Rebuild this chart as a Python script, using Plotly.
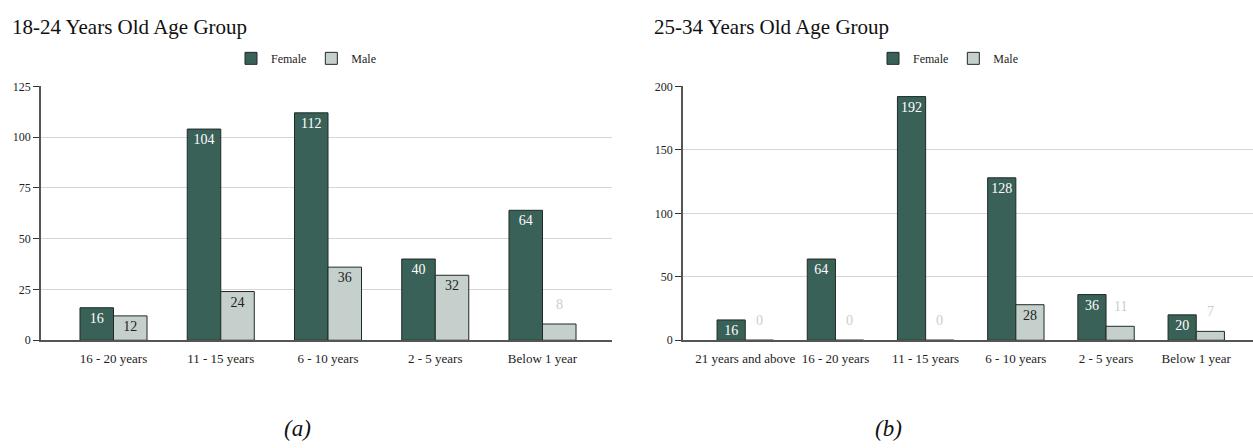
import plotly.graph_objects as go

# 18-24 age group
cats_a = ["16 - 20 years", "11 - 15 years", "6 - 10 years", "2 - 5 years", "Below 1 year"]
female_a = [16, 104, 112, 40, 64]
male_a = [12, 24, 36, 32, 8]

# 25-34 age group
cats_b = ["21 years and above", "16 - 20 years", "11 - 15 years", "6 - 10 years", "2 - 5 years", "Below 1 year"]
female_b = [16, 64, 192, 128, 36, 20]
male_b = [0, 0, 0, 28, 11, 7]

FEMALE = "#3a6158"
MALE = "#c5d0cc"
EDGE = "#1f2a27"
SERIF = "Liberation Serif, Times New Roman, serif"
LABEL_FONT = SERIF

W, H = 1253, 448
PLOT_TOP, PLOT_BOTTOM = 82, 344          # pixel rows of the value axis ends
PLOT_H = PLOT_BOTTOM - PLOT_TOP
MIN_INSIDE_PX = 20                        # shorter bars get their label above

fig = go.Figure()
annotations = []


def add_pair(cats, fem, mal, xa, ya, legend, ymax, half_bar_px):
    fig.add_trace(go.Bar(
        x=cats, y=fem, name="Female", xaxis=xa, yaxis=ya, legend=legend,
        marker=dict(color=FEMALE, line=dict(color=EDGE, width=1)),
        text=fem, textposition="inside", insidetextanchor="end", textangle=0,
        insidetextfont=dict(color="white", family=LABEL_FONT, size=14),
        cliponaxis=False,
    ))
    positions = ["inside" if v / ymax * PLOT_H >= MIN_INSIDE_PX else "none" for v in mal]
    fig.add_trace(go.Bar(
        x=cats, y=mal, name="Male", xaxis=xa, yaxis=ya, legend=legend,
        marker=dict(color=MALE, line=dict(color=EDGE, width=1)),
        text=mal, textposition=positions, insidetextanchor="end", textangle=0,
        insidetextfont=dict(color="#222222", family=LABEL_FONT, size=14),
        cliponaxis=False,
    ))
    # short male bars: value floated above the bar in a pale tint
    for c, v, p in zip(cats, mal, positions):
        if p == "none":
            annotations.append(dict(
                x=c, y=v, xref=xa, yref=ya, text=str(v), showarrow=False,
                xanchor="center", yanchor="middle", xshift=half_bar_px, yshift=20,
                font=dict(family=LABEL_FONT, size=14, color=MALE),
            ))


add_pair(cats_a, female_a, male_a, "x", "y", "legend", 125, 16.75)
add_pair(cats_b, female_b, male_b, "x2", "y2", "legend2", 200, 14.25)

y_top = 1 - PLOT_TOP / H
y_bot = 1 - PLOT_BOTTOM / H

xaxis_common = dict(
    showline=True, linecolor="#555555", linewidth=1.5, ticks="",
    showgrid=False, tickfont=dict(family=SERIF, size=13, color="#222222"),
    ticklabelstandoff=5, fixedrange=True,
)
yaxis_common = dict(
    showline=True, linecolor="#555555", linewidth=1.5, ticks="outside",
    ticklen=6, tickcolor="#333333", showgrid=True, gridcolor="#d6d6d6",
    gridwidth=1, zeroline=False,
    tickfont=dict(family=SERIF, size=12, color="#222222"),
    domain=[y_bot, y_top],
)

legend_common = dict(
    orientation="h", yanchor="middle", xanchor="center",
    font=dict(family=SERIF, size=12, color="#222222"),
    bgcolor="rgba(0,0,0,0)", itemclick=False, itemdoubleclick=False,
    traceorder="normal",
)

for title, x in [("18-24 Years Old Age Group", 10), ("25-34 Years Old Age Group", 652)]:
    annotations.append(dict(
        text=title, x=x / W, y=1 - 21 / H, xref="paper", yref="paper",
        xanchor="left", yanchor="middle", showarrow=False,
        font=dict(family=SERIF, size=21, color="#111111")))
for cap, x in [("(a)", 297), ("(b)", 888)]:
    annotations.append(dict(
        text=f"<i>{cap}</i>", x=x / W, y=1 - 435 / H, xref="paper", yref="paper",
        xanchor="center", yanchor="middle", showarrow=False,
        font=dict(family=SERIF, size=23, color="#111111")))

# category axes padded a little beyond the outer groups
left_dom = (41, 612)
right_dom = (683, W)
cat_a_px = 107.25
cat_b_px = 90.2
ra0 = -0.676
rb0 = -0.69

fig.update_layout(
    width=W, height=H,
    margin=dict(l=0, r=0, t=0, b=0),
    paper_bgcolor="white", plot_bgcolor="white",
    barmode="group", bargap=0.375, bargroupgap=0.0,
    uniformtext=dict(minsize=14, mode="show"),
    xaxis=dict(domain=[left_dom[0] / W, left_dom[1] / W], anchor="y",
               range=[ra0, ra0 + (left_dom[1] - left_dom[0]) / cat_a_px], **xaxis_common),
    yaxis=dict(range=[0, 125], dtick=25, anchor="x", **yaxis_common),
    xaxis2=dict(domain=[right_dom[0] / W, 1.0], anchor="y2",
                range=[rb0, rb0 + (right_dom[1] - right_dom[0]) / cat_b_px], **xaxis_common),
    yaxis2=dict(range=[0, 200], dtick=50, anchor="x2", **yaxis_common),
    legend=dict(x=306 / W, y=1 - 53 / H, **legend_common),
    legend2=dict(x=948 / W, y=1 - 53 / H, **legend_common),
    annotations=annotations,
)

fig.write_html("out.html")
